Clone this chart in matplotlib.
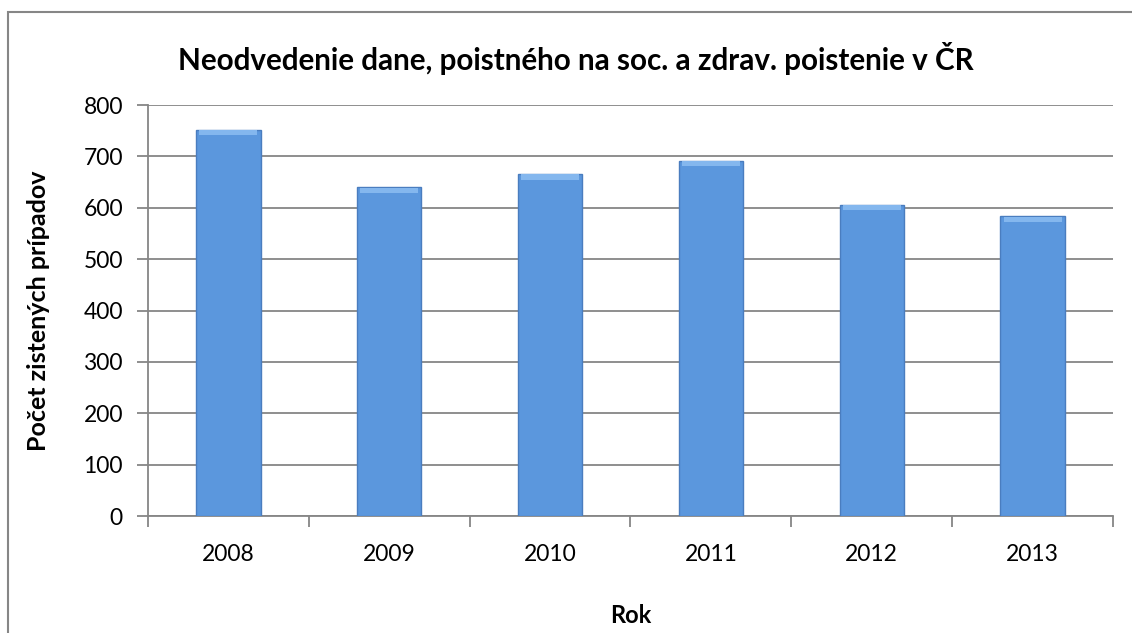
import matplotlib as mpl
mpl.use('Agg')
import matplotlib.pyplot as plt
import numpy as np
from matplotlib.patches import Rectangle

plt.rcParams['font.family'] = ['Lato', 'DejaVu Sans']

years = ['2008', '2009', '2010', '2011', '2012', '2013']
cases = [752, 640, 666, 692, 606, 584]

title = 'Neodvedenie dane, poistného na soc. a zdrav. poistenie v ČR'
xlabel = 'Rok'
ylabel = 'Počet zistených prípadov'

grid_col = '#868686'
bar_col = '#5B97DD'

fig = plt.figure(figsize=(11.32, 6.33), dpi=100)
ax = fig.add_axes([0.1307, 0.1848, 0.8525, 0.6493])

x = np.arange(len(years))
width = 0.4
ax.bar(x, cases, width=width, color=bar_col, edgecolor='#4A7DBF', linewidth=1.0, zorder=3)
# light bevel on top of each bar
ax.bar(x, [10] * len(x), bottom=[c - 11 for c in cases], width=width * 0.9,
       color='#84B7EE', linewidth=0, zorder=4)

ax.set_xlim(-0.5, len(years) - 0.5)
ax.set_ylim(0, 800)
ax.set_yticks(range(0, 801, 100))
ax.yaxis.grid(True, color=grid_col, linewidth=1.3, zorder=0)
ax.set_axisbelow(True)

ax.set_xticks(x)
ax.set_xticklabels(years)
ax.set_xticks(np.arange(-0.5, len(years)), minor=True)
ax.tick_params(axis='x', which='major', length=0, pad=20, labelsize=16.5)
ax.tick_params(axis='x', which='minor', length=8, width=1.3, color=grid_col)
ax.tick_params(axis='y', length=8, width=1.3, color=grid_col, pad=10, labelsize=16.5)

for s in ['top', 'right']:
    ax.spines[s].set_visible(False)
for s in ['left', 'bottom']:
    ax.spines[s].set_color(grid_col)
    ax.spines[s].set_linewidth(1.3)

ax.set_xlabel(xlabel, fontsize=17, fontweight='bold', labelpad=28)
ax.set_ylabel(ylabel, fontsize=18, fontweight='bold', labelpad=24)
fig.text(0.509, 0.908, title, ha='center', va='center', fontsize=21.3, fontweight='bold')

# chart frame
fig.patches.append(Rectangle((8 / 1132, -0.05), 1.1, 1 - 12 / 633 + 0.05,
                             transform=fig.transFigure, fill=False,
                             edgecolor=grid_col, linewidth=1.5))

plt.savefig('out.png', dpi=100)
plt.close()
